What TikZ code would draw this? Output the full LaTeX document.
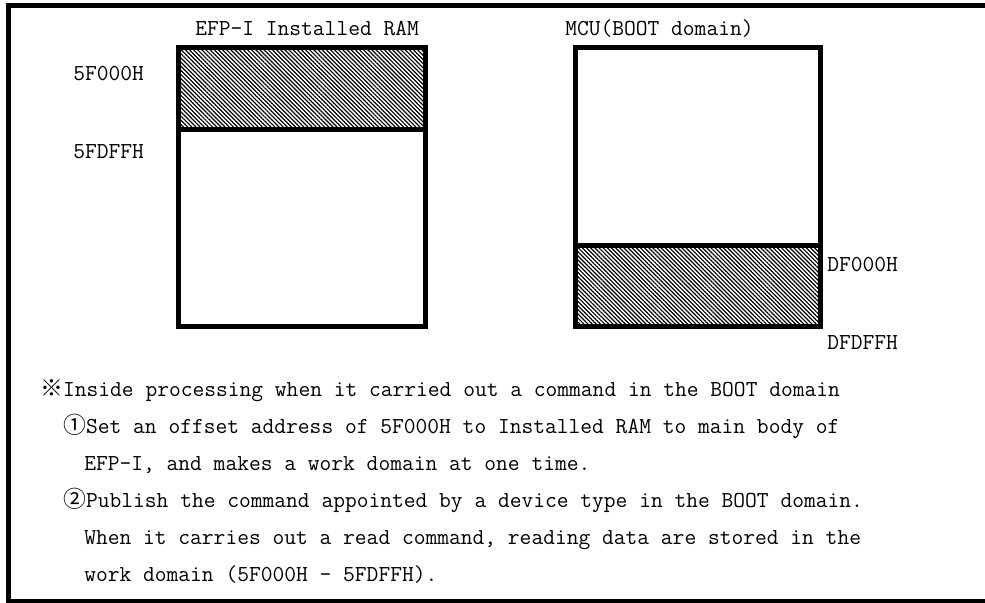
\documentclass[tikz,border=0pt]{standalone}
\usepackage{fontspec}
\newfontfamily\cjk{Noto Sans CJK JP}
\usetikzlibrary{patterns.meta}
\tikzset{
  region/.style={draw, line width=3.75pt, inner sep=0pt, rectangle},
  hatched/.style={pattern={Lines[angle=-45,distance=2.2pt,line width=0.9pt]}},
  lbl/.style={anchor=base west, inner sep=0pt, font=\ttfamily\fontsize{17.14pt}{20pt}\selectfont},
  frameline/.style={line width=3.75pt},
}
\begin{document}
\begin{tikzpicture}[x=0.75pt,y=-0.75pt]
\fill[white] (0,0) rectangle (985,603);
\useasboundingbox (0,0) rectangle (985,603);
% outer frame (open on the right)
\draw[frameline] (985,5.5) -- (8.2,5.5) -- (8.2,601.5) -- (985,601.5);
% EFP-I installed RAM
\node[region, minimum width=185.25pt, minimum height=147.75pt] (ramrest) at (302,228) {};
\node[region, hatched, minimum width=185.25pt, minimum height=61.5pt] (ramtop) at (302,88.5) {};
% MCU boot domain
\node[region, minimum width=183.75pt, minimum height=148.5pt] (mcutop) at (698,146.5) {};
\node[region, hatched, minimum width=183.75pt, minimum height=60.75pt] (mcuboot) at (698,286) {};
% titles and addresses
\node[lbl] (ramtitle) at (195,35) {EFP-I Installed RAM};
\node[lbl] (mcutitle) at (565,35) {MCU(BOOT domain)};
\node[lbl] (adrA) at (73,80) {5F000H};
\node[lbl] (adrB) at (73,158) {5FDFFH};
\node[lbl] (adrC) at (827,271) {DF000H};
\node[lbl] (adrD) at (827,349) {DFDFFH};
% notes
\node[lbl] (noteA) at (40,396) {{\cjk ※}Inside processing when it carried out a command in the BOOT domain};
\node[lbl] (noteB) at (63,433) {{\cjk ①}Set an offset address of 5F000H to Installed RAM to main body of};
\node[lbl] (noteC) at (84,470) {EFP-I, and makes a work domain at one time.};
\node[lbl] (noteD) at (63,507) {{\cjk ②}Publish the command appointed by a device type in the BOOT domain.};
\node[lbl] (noteE) at (84,544) {When it carries out a read command, reading data are stored in the};
\node[lbl] (noteF) at (84,581) {work domain (5F000H - 5FDFFH).};
\end{tikzpicture}
\end{document}
